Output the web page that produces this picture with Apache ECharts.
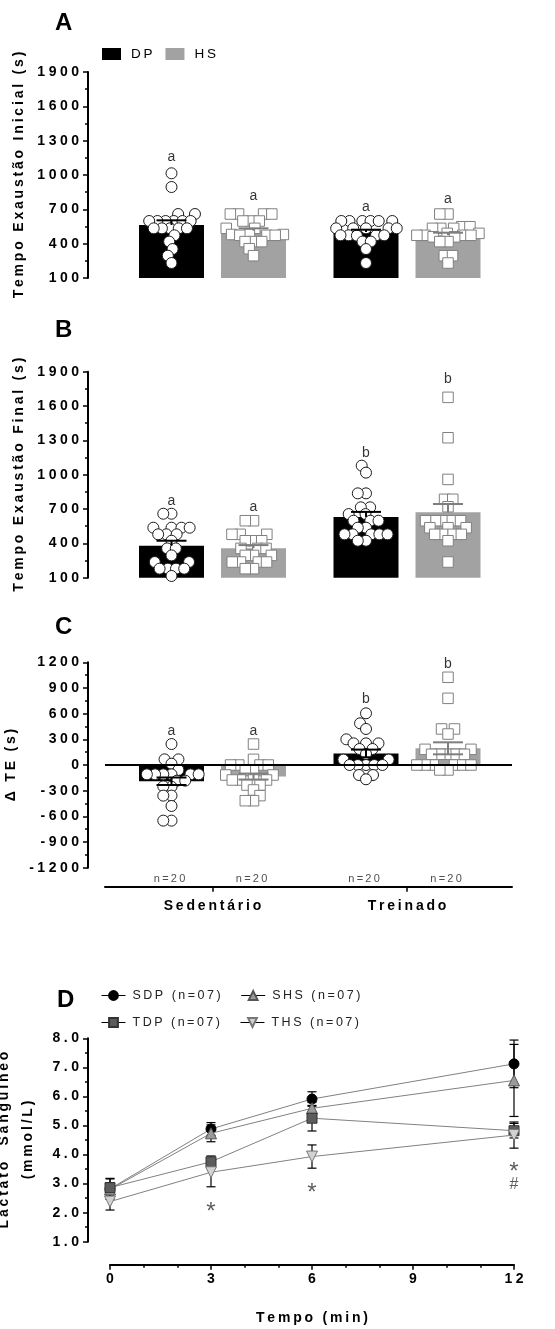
<!DOCTYPE html>
<html><head><meta charset="utf-8">
<script src="https://cdn.jsdelivr.net/npm/echarts@6/dist/echarts.min.js"></script>
<style>html,body{margin:0;padding:0;background:#fff}#c{width:555px;height:1329px}</style>
</head><body><div id="c"></div>
<script>
const SP4 = '\u2005', THIN = '\u2009';
function sp(s, c){ return Array.from(String(s)).join(c); }

// ---------- shared categories ----------
const categories = ['Sedentário', 'Treinado'];
const groupNames = ['DP', 'HS'];
const nLabels = ['n=20', 'n=20', 'n=20', 'n=20'];

// ---------- Panel A: Tempo Exaustão Inicial (s) ----------
const a_DP_sed = [1015, 895, 659, 659, 598, 598, 598, 598, 598, 598, 534, 534, 534, 534, 534, 473, 418, 353, 295, 231];
const a_HS_sed = [659, 659, 659, 659, 598, 598, 598, 534, 534, 480, 480, 480, 473, 473, 473, 418, 418, 418, 356, 295];
const a_DP_tre = [598, 598, 598, 598, 598, 598, 534, 534, 534, 534, 534, 473, 473, 473, 473, 470, 418, 418, 353, 231];
const a_HS_tre = [659, 659, 548, 548, 534, 534, 534, 490, 490, 473, 473, 473, 473, 460, 460, 418, 418, 295, 295, 231];
const a_mean = [563, 513, 502, 474];
const a_sem = [41, 21, 20, 22];
const a_letters = ['a', 'a', 'a', 'a'];
const a_letterY = [1157, 816, 720, 790];

// ---------- Panel B: Tempo Exaustão Final (s) ----------
const b_DP_sed = [659, 659, 537, 537, 537, 537, 479, 479, 479, 423, 356, 356, 295, 237, 237, 179, 179, 179, 179, 115];
const b_HS_sed = [598, 598, 479, 479, 479, 423, 423, 423, 356, 356, 356, 295, 295, 295, 237, 237, 237, 237, 179, 179];
const b_DP_tre = [1079, 1018, 837, 837, 715, 715, 656, 656, 598, 598, 598, 537, 537, 479, 479, 479, 479, 479, 423, 423];
const b_HS_tre = [1676, 1323, 959, 785, 785, 720, 598, 598, 598, 598, 598, 537, 537, 537, 479, 479, 479, 479, 423, 237];
const b_mean = [380, 358, 631, 671];
const b_sem = [43, 27, 44, 73];
const b_letters = ['a', 'a', 'b', 'b'];
const b_letterY = [770, 720, 1187, 1833];

// ---------- Panel C: Δ TE (s) ----------
const c_DP_sed = [245, 66, 66, 15, -58, -109, -109, -109, -109, -109, -109, -183, -183, -254, -250, -358, -358, -479, -650, -650];
const c_HS_sed = [245, 66, 0, 0, 0, 0, -58, -58, -117, -117, -175, -175, -175, -175, -234, -234, -292, -358, -417, -417];
const c_DP_tre = [604, 487, 421, 300, 253, 253, 253, 187, 187, 129, 63, 63, 0, 0, 0, 0, 0, -117, -117, -167];
const c_HS_tre = [1025, 779, 421, 421, 362, 183, 183, 125, 125, 125, 125, 125, 0, 0, 0, 0, 0, 0, -58, -58];
const c_mean = [-190, -135, 135, 195];
const c_sem = [44, 35, 45, 70];
const c_letters = ['a', 'a', 'b', 'b'];
const c_letterY = [390, 390, 768, 1180];
const nLabelY = -1332;

// ---------- Panel D: Lactato sanguíneo ----------
const d_time = [0, 3, 6, 12];
const d_names = ['SDP (n=07)', 'SHS (n=07)', 'TDP (n=07)', 'THS (n=07)'];
const d_SDP = [2.82, 4.88, 5.91, 7.12];  const d_SDP_sem = [0.36, 0.22, 0.25, 0.82];
const d_SHS = [2.80, 4.73, 5.59, 6.55];  const d_SHS_sem = [0.23, 0.29, 0.20, 1.24];
const d_TDP = [2.86, 3.75, 5.25, 4.82];  const d_TDP_sem = [0.30, 0.20, 0.44, 0.25];
const d_THS = [2.38, 3.39, 3.93, 4.67];  const d_THS_sem = [0.29, 0.50, 0.40, 0.45];
const d_markT = [3, 6, 12, 12];
const d_markY = [2.26, 2.89, 3.64, 2.95];
const d_markText = ['*', '*', '*', '#'];

// ---------- styling / layout ----------
const FONT = '"Liberation Sans", Arial, Helvetica, sans-serif';
const GROUP_OFF = 0.2108;
const X_MIN = -0.5527, X_MAX = 1.5398;
const DP_COLOR = '#000000', HS_COLOR = '#a2a2a2', HS_ERR = '#7e7e7e';
function barX(k){ const cat = Math.floor(k / 2), g = k % 2; return cat + (g === 0 ? -GROUP_OFF : GROUP_OFF); }

const panels = [
  {pts: [a_DP_sed, a_HS_sed, a_DP_tre, a_HS_tre], mean: a_mean, sem: a_sem, letters: a_letters, letterY: a_letterY, dir: 'up'},
  {pts: [b_DP_sed, b_HS_sed, b_DP_tre, b_HS_tre], mean: b_mean, sem: b_sem, letters: b_letters, letterY: b_letterY, dir: 'up'},
  {pts: [c_DP_sed, c_HS_sed, c_DP_tre, c_HS_tre], mean: c_mean, sem: c_sem, letters: c_letters, letterY: c_letterY, dir: 'both'}
];

function errRender(color, width, capHalf, dir){
  return function(params, api){
    const x = api.value(0), m = api.value(1), s = api.value(2);
    const lo = dir === 'up' ? m : m - s, hi = m + s;
    const pHi = api.coord([x, hi]), pLo = api.coord([x, lo]);
    const style = {stroke: color, lineWidth: width};
    const ch = [
      {type: 'line', shape: {x1: pHi[0], y1: pHi[1], x2: pLo[0], y2: pLo[1]}, style},
      {type: 'line', shape: {x1: pHi[0] - capHalf, y1: pHi[1], x2: pHi[0] + capHalf, y2: pHi[1]}, style}
    ];
    if (dir !== 'up') ch.push({type: 'line', shape: {x1: pLo[0] - capHalf, y1: pLo[1], x2: pLo[0] + capHalf, y2: pLo[1]}, style});
    return {type: 'group', children: ch};
  };
}

const series = [];
const swarmSeries = [];
panels.forEach((p, gi) => {
  const dpBar = {
    type: 'bar', name: 'DP', xAxisIndex: gi, yAxisIndex: gi, barWidth: 65, barGap: '-100%', z: 2,
    itemStyle: {color: DP_COLOR}, data: [[barX(0), p.mean[0]], [barX(2), p.mean[2]]], silent: true
  };
  if (gi === 2) dpBar.markLine = {silent: true, symbol: 'none', label: {show: false},
    lineStyle: {color: '#000', width: 2, type: 'solid'}, data: [{yAxis: 0}], animation: false};
  series.push(dpBar);
  series.push({
    type: 'bar', name: 'HS', xAxisIndex: gi, yAxisIndex: gi, barWidth: 65, barGap: '-100%', z: 2,
    itemStyle: {color: HS_COLOR}, data: [[barX(1), p.mean[1]], [barX(3), p.mean[3]]], silent: true
  });
  p.pts.forEach((vals, k) => {
    const isDP = k % 2 === 0;
    swarmSeries.push({index: series.length, grid: gi, k, values: vals});
    series.push({
      type: 'scatter', name: 'pts' + gi + '_' + k, xAxisIndex: gi, yAxisIndex: gi, z: 3, clip: false,
      symbol: isDP ? 'circle' : 'rect', symbolSize: isDP ? 11 : 10.5,
      itemStyle: {color: '#fff', borderColor: isDP ? '#1a1a1a' : '#808080', borderWidth: 1, opacity: 1},
      data: vals.map(v => [barX(k), v])
    });
  });
  series.push({type: 'custom', name: 'errDP' + gi, xAxisIndex: gi, yAxisIndex: gi, z: 4, silent: true,
    renderItem: errRender(DP_COLOR, 2, 15, p.dir), data: [[barX(0), p.mean[0], p.sem[0]], [barX(2), p.mean[2], p.sem[2]]]});
  series.push({type: 'custom', name: 'errHS' + gi, xAxisIndex: gi, yAxisIndex: gi, z: 4, silent: true,
    renderItem: errRender(HS_ERR, 2, 15, p.dir), data: [[barX(1), p.mean[1], p.sem[1]], [barX(3), p.mean[3], p.sem[3]]]});
  series.push({type: 'scatter', name: 'letters' + gi, xAxisIndex: gi, yAxisIndex: gi, z: 5, clip: false, silent: true,
    symbolSize: 0, label: {show: true, position: 'inside', formatter: '{b}', fontSize: 14, color: '#000', fontFamily: FONT},
    data: p.letters.map((t, k) => ({name: t, value: [barX(k), p.letterY[k]]}))});
});
series.push({type: 'scatter', name: 'nlab', xAxisIndex: 2, yAxisIndex: 2, z: 5, clip: false, silent: true,
  symbolSize: 0, label: {show: true, position: 'inside', formatter: p => sp(p.name, THIN), fontSize: 11, color: '#222', fontFamily: FONT},
  data: nLabels.map((t, k) => ({name: t, value: [barX(k) - 0.01, nLabelY]}))});

// Panel D
const dVals = [d_SDP, d_SHS, d_TDP, d_THS];
const dSems = [d_SDP_sem, d_SHS_sem, d_TDP_sem, d_THS_sem];
const dStyle = [
  {symbol: 'circle', size: 10, color: '#000', border: '#000'},
  {symbol: 'triangle', size: 11, color: '#9a9a9a', border: '#555'},
  {symbol: 'rect', size: 10, color: '#5c5c5c', border: '#333'},
  {symbol: 'path://M0,0L10,0L5,9Z', size: 11, color: '#d2d2d2', border: '#777'}
];
dVals.forEach((vals, i) => {
  series.push({type: 'custom', name: 'errD' + i, xAxisIndex: 3, yAxisIndex: 3, z: 1, silent: true,
    renderItem: errRender('#000', 1.2, 4.5, 'both'), data: vals.map((v, j) => [d_time[j], v, dSems[i][j]])});
});
dVals.forEach((vals, i) => {
  const st = dStyle[i];
  series.push({type: 'line', name: d_names[i], xAxisIndex: 3, yAxisIndex: 3, z: 2 + i,
    symbol: st.symbol, symbolSize: st.size, showAllSymbol: true,
    lineStyle: {color: '#808080', width: 1},
    itemStyle: {color: st.color, borderColor: st.border, borderWidth: 1},
    data: vals.map((v, j) => [d_time[j], v])});
});
series.push({type: 'scatter', name: 'marksD', xAxisIndex: 3, yAxisIndex: 3, z: 8, clip: false, silent: true,
  symbolSize: 0, label: {show: true, position: 'inside', formatter: '{b}', color: '#333', fontFamily: FONT},
  data: d_markText.map((t, k) => ({name: t, value: [d_markT[k], d_markY[k]],
    label: t === '*' ? {fontSize: 24, offset: [0, 7]} : {fontSize: 16, offset: [0, 0]}}))});

// axes
const yLabel = {color: '#000', fontWeight: 'bold', fontSize: 14, fontFamily: FONT, margin: 9};
const axLine = {show: true, onZero: false, lineStyle: {color: '#000', width: 2}};
const axTick = {show: true, length: 5, lineStyle: {color: '#000', width: 1.5}};
const minTick = n => ({show: true, splitNumber: n, length: 3, lineStyle: {color: '#000', width: 1.5}});
const nameStyle = {color: '#000', fontWeight: 'bold', fontSize: 14, fontFamily: FONT};

function yAxisBar(gi, min, max, name){
  return {gridIndex: gi, type: 'value', min, max, interval: 300, offset: 17,
    axisLine: axLine, axisTick: axTick, minorTick: minTick(2), splitLine: {show: false},
    axisLabel: Object.assign({}, yLabel, {formatter: v => sp(v, SP4)}),
    name: sp(name, THIN), nameLocation: 'middle', nameGap: 56, nameTextStyle: nameStyle};
}
function xAxisBar(gi, show){
  const ax = {gridIndex: gi, type: 'value', min: X_MIN, max: X_MAX, show: show, splitLine: {show: false}};
  if (show) {
    Object.assign(ax, {offset: 19, axisLine: axLine,
      axisTick: {show: true, length: 5, lineStyle: {color: '#000', width: 1.5}, customValues: [0, 1]},
      axisLabel: Object.assign({}, yLabel, {margin: 12, customValues: [0, 1], formatter: v => sp(categories[Math.round(v)], THIN)})});
  }
  return ax;
}

const titleStyle = {fontSize: 24, fontWeight: 'bold', color: '#000', fontFamily: FONT};
const option = {
  animation: false,
  textStyle: {fontFamily: FONT},
  title: [
    {text: 'A', left: 55, top: 11, padding: 0, textStyle: titleStyle},
    {text: 'B', left: 55, top: 318, padding: 0, textStyle: titleStyle},
    {text: 'C', left: 55, top: 615, padding: 0, textStyle: titleStyle},
    {text: 'D', left: 57, top: 988, padding: 0, textStyle: titleStyle}
  ],
  legend: [
    {data: groupNames, left: 102, top: 47, padding: 0, itemWidth: 19, itemHeight: 12, itemGap: 13, icon: 'rect', selectedMode: false,
      formatter: n => sp(n, THIN), textStyle: {fontSize: 13.5, color: '#000', fontFamily: FONT, padding: [0, 0, 0, 5]}},
    {data: d_names.slice(0, 2), left: 101, top: 989, padding: 0, itemWidth: 24, itemHeight: 11, itemGap: 20, selectedMode: false,
      lineStyle: {color: '#000', width: 1},
      formatter: n => sp(n, THIN), textStyle: {fontSize: 12.5, color: '#222', fontFamily: FONT, padding: [0, 0, 0, 2]}},
    {data: d_names.slice(2, 4), left: 101, top: 1016, padding: 0, itemWidth: 24, itemHeight: 11, itemGap: 20, selectedMode: false,
      lineStyle: {color: '#000', width: 1},
      formatter: n => sp(n, THIN), textStyle: {fontSize: 12.5, color: '#222', fontFamily: FONT, padding: [0, 0, 0, 2]}}
  ],
  grid: [
    {left: 105, right: 43, top: 72, height: 206, outerBoundsMode: 'none'},
    {left: 105, right: 43, top: 371.7, height: 206, outerBoundsMode: 'none'},
    {left: 105, right: 43, top: 662.3, height: 205.4, outerBoundsMode: 'none'},
    {left: 110, right: 41, top: 1038.3, height: 203.4, outerBoundsMode: 'none'}
  ],
  xAxis: [
    xAxisBar(0, false), xAxisBar(1, false), xAxisBar(2, true),
    {gridIndex: 3, type: 'value', min: 0, max: 12, interval: 3, offset: 23,
      axisLine: axLine, axisTick: axTick, minorTick: minTick(3), splitLine: {show: false},
      axisLabel: Object.assign({}, yLabel, {margin: 7, formatter: v => sp(v, SP4)}),
      name: sp('Tempo (min)', THIN), nameLocation: 'middle', nameGap: 46, nameTextStyle: nameStyle}
  ],
  yAxis: [
    yAxisBar(0, 100, 1900, 'Tempo Exaustão Inicial (s)'),
    yAxisBar(1, 100, 1900, 'Tempo Exaustão Final (s)'),
    yAxisBar(2, -1200, 1200, 'Δ TE (s)'),
    {gridIndex: 3, type: 'value', min: 1, max: 8, interval: 1, offset: 22,
      axisLine: axLine, axisTick: axTick, minorTick: minTick(2), splitLine: {show: false},
      axisLabel: Object.assign({}, yLabel, {formatter: v => sp(v.toFixed(1), SP4)}),
      name: sp('Lactato  Sanguíneo', THIN) + '\n' + sp('(mmol/L)', THIN), nameLocation: 'middle', nameGap: 48,
      nameTextStyle: Object.assign({}, nameStyle, {lineHeight: 24})}
  ],
  series
};

const chart = echarts.init(document.getElementById('c'), null, {renderer: 'canvas'});
chart.setOption(option);

// beeswarm layout of the individual points, computed through the axes' own scales
function swarm(pys, D){
  const order = pys.map((y, i) => i).sort((a, b) => pys[b] - pys[a]);
  const placed = [], off = new Array(pys.length);
  for (const i of order) {
    const y = pys[i];
    const near = placed.filter(p => Math.abs(p.y - y) < D);
    let cands = [0];
    near.forEach(p => { const dx = Math.sqrt(D * D - (p.y - y) ** 2) + 0.01; cands.push(p.x + dx, p.x - dx); });
    cands = cands.filter(c => near.every(p => (p.x - c) ** 2 + (p.y - y) ** 2 >= D * D - 0.05));
    cands.sort((a, b) => Math.abs(a) - Math.abs(b) || a - b);
    const x = cands[0];
    placed.push({x, y}); off[i] = x;
  }
  return off;
}
const upd = {};
swarmSeries.forEach(s => {
  const finder = {xAxisIndex: s.grid, yAxisIndex: s.grid};
  const cx = barX(s.k);
  const pys = s.values.map(v => chart.convertToPixel(finder, [cx, v])[1]);
  const c0 = chart.convertToPixel(finder, [cx, s.values[0]])[0];
  const offs = swarm(pys, 8.2);
  upd[s.index] = s.values.map((v, i) => [chart.convertFromPixel(finder, [c0 + offs[i], pys[i]])[0], v]);
});
chart.setOption({series: option.series.map((se, i) => upd[i] ? {data: upd[i]} : {})});
</script></body></html>
